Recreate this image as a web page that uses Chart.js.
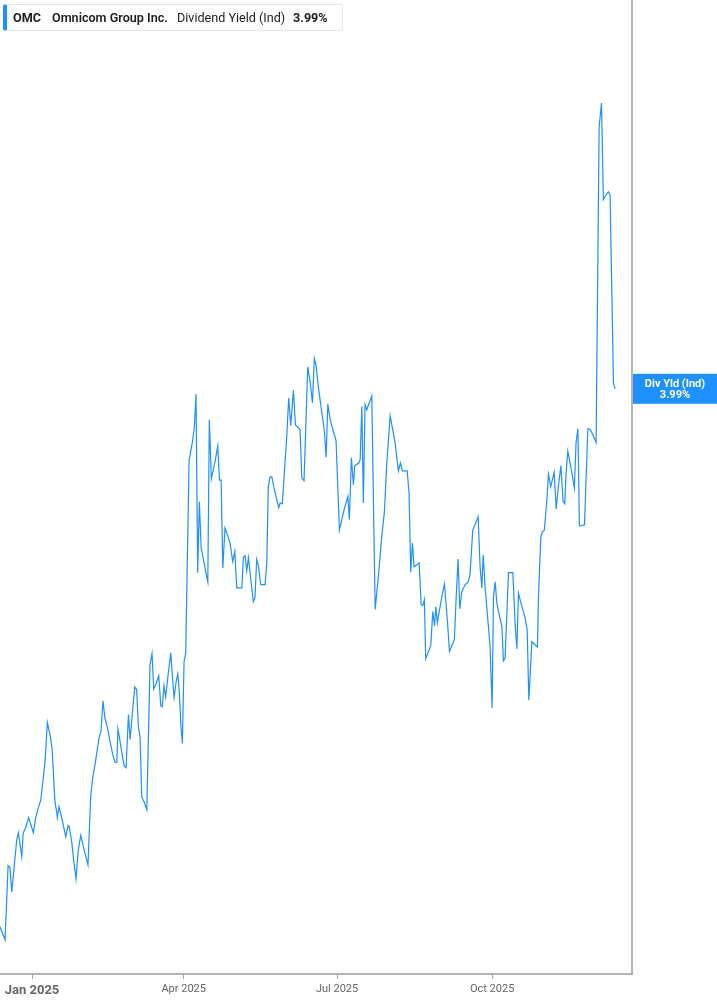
<!DOCTYPE html>
<html>
<head>
<meta charset="utf-8">
<title>OMC Dividend Yield</title>
<script src="https://cdn.jsdelivr.net/npm/chart.js@4.4.1/dist/chart.umd.min.js"></script>
<style>
  html, body { margin: 0; padding: 0; background: #fff; }
  #wrap { position: relative; width: 717px; height: 1005px; }
  #legend {
    position: absolute; left: 3px; top: 4px; width: 340px; height: 27px;
    box-sizing: border-box; background: #fff;
    border: 1px solid #e6e6e6; border-left: 4px solid #1e90ff; border-radius: 3px;
    font-family: Roboto, "Liberation Sans", sans-serif; font-size: 12.6px; color: #1c1c1c;
  }
  #legend span { position: absolute; top: 0; line-height: 25px; white-space: nowrap; }
</style>
</head>
<body>
<div id="wrap">
  <canvas id="graficoYield"></canvas>
  <div id="legend">
    <span style="left:6px;font-weight:700">OMC</span>
    <span style="left:45px;font-weight:600">Omnicom Group Inc.</span>
    <span style="left:170px;font-weight:400">Dividend Yield (Ind)</span>
    <span style="left:286px;font-weight:700">3.99%</span>
  </div>
</div>
<script>
// days counted from 1 Jan 2025, yield in %
var days = [
  -19.0, -16.0, -14.2, -13.1, -12.0, -9.1, -8.1, -6.1, -5.2, -3.7,
  -2.0, 0.8, 2.2, 3.7, 5.2, 6.7, 7.7, 9.1, 10.7, 11.9,
  13.6, 14.7, 15.0, 16.0, 17.6, 20.0, 21.4, 22.1, 23.6, 24.9,
  26.1, 27.3, 28.9, 30.9, 33.2, 34.8, 36.0, 37.4, 39.8, 40.9,
  42.1, 43.3, 44.7, 46.3, 47.9, 49.3, 50.3, 51.0, 52.2, 53.7,
  54.8, 55.8, 57.2, 58.2, 59.8, 61.0, 62.1, 63.1, 64.1, 65.1,
  66.5, 68.1, 70.0, 71.2, 72.2, 73.6, 75.2, 76.4, 77.3, 78.3,
  79.3, 80.9, 82.3, 83.3, 84.3, 85.5, 86.5, 87.4, 88.4, 89.2,
  90.2, 91.2, 93.2, 93.8, 95.1, 96.3, 97.3, 98.3, 99.3, 100.3,
  101.7, 103.1, 104.3, 105.2, 106.4, 107.6, 109.0, 110.2, 111.2, 112.2,
  113.2, 114.5, 115.9, 117.5, 119.1, 120.3, 121.5, 124.5, 125.4, 126.4,
  127.4, 128.4, 131.3, 132.3, 133.3, 134.3, 135.7, 138.3, 139.3, 140.2,
  141.2, 142.3, 143.6, 145.2, 146.4, 147.2, 148.5, 149.7, 151.2, 152.3,
  153.5, 155.1, 156.3, 159.0, 160.1, 161.4, 163.6, 165.0, 166.4, 167.5,
  168.5, 169.9, 171.9, 173.5, 174.5, 175.5, 176.9, 178.8, 180.4, 181.2,
  182.4, 183.8, 185.3, 187.4, 188.3, 189.5, 190.7, 191.5, 193.9, 194.7,
  195.7, 196.6, 197.6, 198.6, 201.6, 203.6, 205.5, 207.5, 209.1, 210.5,
  212.5, 215.4, 217.4, 218.6, 219.8, 222.6, 223.7, 224.7, 225.7, 226.7,
  229.7, 230.9, 231.9, 232.8, 233.6, 236.6, 237.8, 238.8, 239.6, 240.5,
  243.1, 244.7, 246.3, 247.7, 250.6, 251.6, 252.8, 253.8, 255.0, 257.0,
  258.6, 259.9, 261.5, 264.7, 265.9, 266.9, 267.7, 268.8, 270.8, 271.8,
  273.0, 273.8, 274.8, 275.8, 277.2, 278.8, 279.7, 280.7, 282.7, 285.3,
  286.6, 287.7, 288.6, 290.2, 292.6, 293.8, 294.8, 296.6, 298.5, 299.9,
  300.5, 301.9, 302.8, 304.0, 305.5, 306.4, 307.8, 309.8, 311.0, 312.3,
  313.8, 315.1, 316.1, 316.9, 317.9, 319.3, 320.7, 321.8, 322.8, 323.9,
  324.8, 327.8, 329.8, 331.2, 332.8, 334.7, 336.5, 337.9, 339.0, 340.5,
  342.0, 343.0, 345.0, 346.0
];
var yields = [
  3.170, 3.150, 3.263, 3.260, 3.223, 3.302, 3.313, 3.277, 3.313, 3.321,
  3.336, 3.313, 3.336, 3.351, 3.363, 3.397, 3.421, 3.481, 3.462, 3.441,
  3.360, 3.344, 3.336, 3.353, 3.336, 3.307, 3.324, 3.322, 3.298, 3.267,
  3.243, 3.284, 3.309, 3.287, 3.264, 3.368, 3.397, 3.417, 3.458, 3.467,
  3.514, 3.487, 3.474, 3.452, 3.432, 3.420, 3.420, 3.471, 3.453, 3.429,
  3.414, 3.412, 3.493, 3.455, 3.503, 3.535, 3.531, 3.474, 3.459, 3.368,
  3.360, 3.348, 3.569, 3.586, 3.532, 3.540, 3.552, 3.506, 3.505, 3.537,
  3.520, 3.557, 3.587, 3.551, 3.519, 3.543, 3.555, 3.526, 3.474, 3.449,
  3.573, 3.587, 3.881, 3.888, 3.907, 3.930, 3.981, 3.709, 3.817, 3.748,
  3.729, 3.710, 3.695, 3.942, 3.852, 3.866, 3.884, 3.902, 3.850, 3.850,
  3.716, 3.777, 3.767, 3.754, 3.726, 3.741, 3.686, 3.686, 3.733, 3.735,
  3.712, 3.732, 3.665, 3.671, 3.729, 3.720, 3.691, 3.691, 3.724, 3.840,
  3.855, 3.855, 3.838, 3.820, 3.808, 3.815, 3.814, 3.861, 3.919, 3.975,
  3.933, 3.987, 3.934, 3.927, 3.853, 3.849, 4.022, 4.000, 3.968, 4.035,
  4.025, 3.992, 3.954, 3.924, 3.885, 3.966, 3.942, 3.924, 3.910, 3.855,
  3.774, 3.790, 3.806, 3.825, 3.790, 3.884, 3.843, 3.872, 3.876, 3.881,
  3.962, 3.815, 3.965, 3.957, 3.978, 3.653, 3.703, 3.764, 3.802, 3.876,
  3.948, 3.907, 3.864, 3.876, 3.864, 3.864, 3.831, 3.710, 3.754, 3.718,
  3.724, 3.660, 3.659, 3.668, 3.578, 3.598, 3.650, 3.628, 3.657, 3.633,
  3.672, 3.692, 3.642, 3.589, 3.607, 3.668, 3.730, 3.654, 3.680, 3.691,
  3.694, 3.706, 3.774, 3.794, 3.716, 3.686, 3.736, 3.688, 3.627, 3.596,
  3.503, 3.672, 3.695, 3.663, 3.645, 3.627, 3.575, 3.579, 3.709, 3.709,
  3.633, 3.593, 3.678, 3.662, 3.640, 3.622, 3.515, 3.604, 3.599, 3.596,
  3.672, 3.764, 3.771, 3.774, 3.820, 3.859, 3.840, 3.862, 3.806, 3.840,
  3.872, 3.818, 3.814, 3.861, 3.894, 3.876, 3.855, 3.838, 3.907, 3.928,
  3.780, 3.782, 3.928, 3.927, 3.919, 3.907, 4.388, 4.424, 4.277, 4.284,
  4.289, 4.284, 3.998, 3.989
];
var tickDays = [0, 90, 181, 273];
var tickLabels = ['Jan 2025', 'Apr 2025', 'Jul 2025', 'Oct 2025'];
var serieNombre = 'Div Yld (Ind)';
var colorLinea = '#1e90ff';

var puntos = days.map(function (d, i) { return { x: d, y: yields[i] }; });

// value box on the right axis
var etiquetaFinal = {
  id: 'etiquetaFinal',
  afterDraw: function (chart) {
    var ctx = chart.ctx;
    var ultimo = yields[yields.length - 1];
    var py = chart.scales.y.getPixelForValue(ultimo);
    var x0 = chart.chartArea.right + 1;
    var ancho = chart.width - x0;
    ctx.save();
    ctx.fillStyle = colorLinea;
    ctx.fillRect(x0, py - 15, ancho, 30);
    ctx.fillStyle = '#ffffff';
    ctx.font = 'bold 11px Roboto, "Liberation Sans", sans-serif';
    ctx.textAlign = 'center';
    ctx.textBaseline = 'middle';
    ctx.fillText(serieNombre, x0 + ancho / 2, py - 5);
    ctx.fillText(ultimo.toFixed(2) + '%', x0 + ancho / 2, py + 6);
    ctx.restore();
  }
};

var ctx = document.getElementById('graficoYield').getContext('2d');
var graficoYield = new Chart(ctx, {
  type: 'line',
  data: {
    datasets: [{
      label: serieNombre,
      data: puntos,
      borderColor: colorLinea,
      borderWidth: 1.2,
      pointRadius: 0,
      tension: 0,
      fill: false
    }]
  },
  options: {
    responsive: true,
    maintainAspectRatio: false,
    animation: false,
    layout: { padding: 0 },
    plugins: {
      legend: { display: false },
      tooltip: { enabled: false }
    },
    scales: {
      x: {
        type: 'linear',
        position: 'bottom',
        min: -19,
        max: 356,
        afterBuildTicks: function (scale) {
          scale.ticks = tickDays.map(function (v) { return { value: v }; });
        },
        afterFit: function (scale) { scale.height = 31; },
        grid: { drawOnChartArea: false, drawTicks: true, tickLength: 5, color: '#a8a8a8', lineWidth: 1 },
        border: { display: true, color: '#b4b4b4', width: 2 },
        ticks: {
          padding: 4,
          maxRotation: 0,
          autoSkip: false,
          color: '#666',
          font: function (c) {
            if (c.tick && c.tick.value === 0) {
              return { family: 'Roboto, "Liberation Sans", sans-serif', size: 13, weight: 'bold' };
            }
            return { family: 'Roboto, "Liberation Sans", sans-serif', size: 11 };
          },
          callback: function (value) {
            var i = tickDays.indexOf(value);
            return i >= 0 ? tickLabels[i] : '';
          }
        }
      },
      y: {
        type: 'linear',
        position: 'right',
        min: 3.098,
        max: 4.581,
        afterFit: function (scale) { scale.width = 85; },
        grid: { display: false },
        border: { display: true, color: '#b4b4b4', width: 2 },
        ticks: { display: false }
      }
    }
  },
  plugins: [etiquetaFinal]
});
</script>
</body>
</html>
